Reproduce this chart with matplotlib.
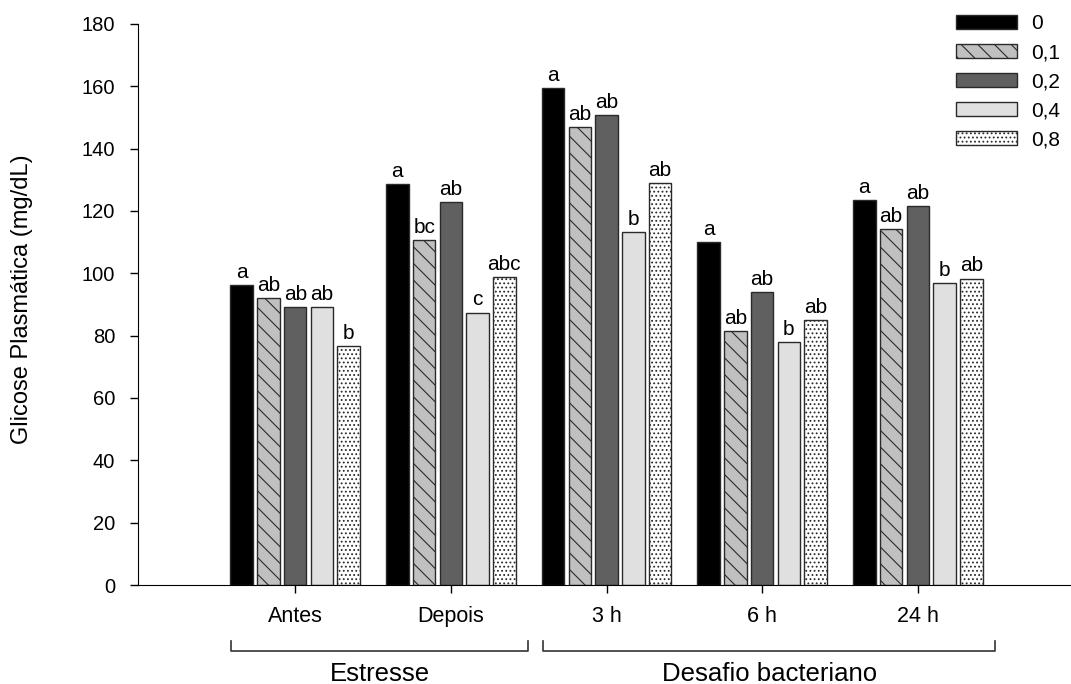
import numpy as np
import matplotlib
matplotlib.use("Agg")
import matplotlib.pyplot as plt

plt.rcParams['font.family'] = ['Liberation Sans', 'DejaVu Sans']
plt.rcParams['hatch.linewidth'] = 0.8

# Data
groups = ["Antes", "Depois", "3 h", "6 h", "24 h"]
doses = ["0", "0,1", "0,2", "0,4", "0,8"]

v_0 = [96.3, 128.6, 159.5, 110.1, 123.4]
v_01 = [92.0, 110.7, 147.0, 81.6, 114.3]
v_02 = [89.2, 122.9, 150.9, 93.9, 121.6]
v_04 = [89.2, 87.4, 113.3, 77.9, 96.8]
v_08 = [76.8, 98.7, 129.0, 84.9, 98.3]

let_0 = ["a", "a", "a", "a", "a"]
let_01 = ["ab", "bc", "ab", "ab", "ab"]
let_02 = ["ab", "ab", "ab", "ab", "ab"]
let_04 = ["ab", "c", "b", "b", "b"]
let_08 = ["b", "abc", "ab", "ab", "ab"]

values = [v_0, v_01, v_02, v_04, v_08]
letters = [let_0, let_01, let_02, let_04, let_08]
colors = ["#000000", "#c0c0c0", "#606060", "#e0e0e0", "#ffffff"]
hatches = [None, "\\\\", None, None, "...."]

fig = plt.figure(figsize=(10.71, 6.84), dpi=100)
ax = fig.add_axes([0.1284, 0.1447, 0.8716, 0.8203])

x = np.arange(len(groups))
step = 0.1716
width = 0.145
for i in range(len(doses)):
    xs = x + (i - 2) * step
    ax.bar(xs, values[i], width, color=colors[i], edgecolor="#2a2a2a",
           linewidth=1.0, hatch=hatches[i], label=doses[i])
    for xx, v, t in zip(xs, values[i], letters[i]):
        ax.text(xx, v + 1.0, t, ha="center", va="bottom", fontsize=15)

ax.set_ylim(0, 180)
ax.set_xlim(-1.013, 4.984)
ax.set_yticks(range(0, 181, 20))
ax.set_xticks(x)
ax.set_xticklabels(groups, fontsize=15.5)
ax.tick_params(axis="y", labelsize=14.5, length=6, width=1, pad=10)
ax.tick_params(axis="x", length=6, width=1, pad=9)
ax.spines["top"].set_visible(False)
ax.spines["right"].set_visible(False)
ax.set_ylabel("Glicose Plasmática (mg/dL)", fontsize=17)
ax.yaxis.set_label_coords(-0.112, 0.51)

# group brackets below the axis
tr = ax.get_xaxis_transform()
for x0, x1, lab in [(-0.413, 1.497, "Estresse"), (1.594, 4.497, "Desafio bacteriano")]:
    ax.plot([x0, x0, x1, x1], [-0.0998, -0.1176, -0.1176, -0.0998], transform=tr,
            color="#333333", lw=1.2, clip_on=False)
    ax.text((x0 + x1) / 2, -0.158, lab, transform=tr, ha="center", va="center",
            fontsize=18.5)

leg = ax.legend(loc="upper left", bbox_to_anchor=(0.893, 0.979),
                bbox_transform=fig.transFigure, frameon=False, fontsize=15,
                handlelength=2.93, handleheight=0.67, labelspacing=0.48,
                handletextpad=0.67, borderaxespad=0, borderpad=0)

fig.savefig("out.png", dpi=100)
